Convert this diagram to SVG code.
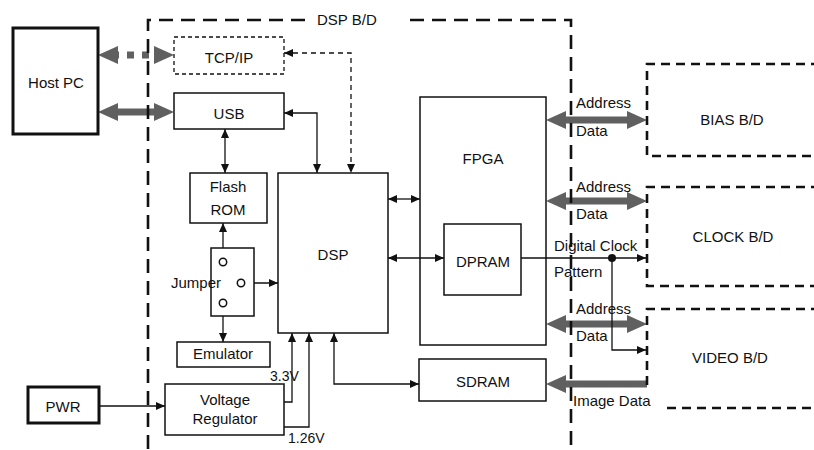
<svg xmlns="http://www.w3.org/2000/svg" width="814" height="450" viewBox="0 0 814 450">
<defs>
<style>
text{font-family:"Liberation Sans",Arial,sans-serif;font-size:15px;fill:#111}
.c{text-anchor:middle}
.sm{font-size:14px}
.box{fill:#fff;stroke:#111;stroke-width:1.5}
.thick{fill:#fff;stroke:#111;stroke-width:3}
.dbox{fill:none;stroke:#111;stroke-width:1.3;stroke-dasharray:4 3}
.bd{fill:none;stroke:#111;stroke-width:2.6;stroke-dasharray:14 8}
.sub{fill:none;stroke:#111;stroke-width:2.6;stroke-dasharray:9 6}
.ln{fill:none;stroke:#111;stroke-width:1.3}
.dl{fill:none;stroke:#111;stroke-width:1.3;stroke-dasharray:5 4}
.ba{marker-start:url(#ah);marker-end:url(#ah)}
.ea{marker-end:url(#ah)}
.g{fill:none;stroke:#606060;stroke-width:7}
.gb{marker-start:url(#gh);marker-end:url(#gh)}
</style>
<marker id="ah" markerUnits="userSpaceOnUse" markerWidth="9" markerHeight="8" refX="9" refY="4" orient="auto-start-reverse"><path d="M0,0 L9,4 L0,8 z" fill="#111"/></marker>
<marker id="gh" markerUnits="userSpaceOnUse" markerWidth="20" markerHeight="18" refX="10" refY="9" orient="auto-start-reverse"><path d="M0,0 L20,9 L0,18 z" fill="#606060"/></marker>
</defs>
<rect width="814" height="450" fill="#fff"/>

<g id="connectors">
<line class="g gb" x1="108" y1="55" x2="164" y2="55" stroke-dasharray="7 8" stroke-dashoffset="-4"/>
<line class="g gb" x1="108" y1="112" x2="164" y2="112"/>
<line class="g gb" x1="556" y1="120" x2="637" y2="120"/>
<line class="g gb" x1="556" y1="201" x2="637" y2="201"/>
<line class="g gb" x1="556" y1="324" x2="637" y2="324"/>
<path class="g" d="M647,384 H556" marker-end="url(#gh)"/>

<path class="ln ba" d="M225,129 V173"/>
<path class="ln ba" d="M284,113 H317 V173"/>
<path class="dl ba" d="M284,53 H351 V173"/>
<path class="ln ba" d="M223,223 V258"/>
<path class="ln ba" d="M245,283 H278"/>
<path class="ln ba" d="M223,307 V342"/>
<path class="ln ba" d="M388,199 H420"/>
<path class="ln ba" d="M388,258 H444"/>
<path class="ln ea" d="M521,258 H646"/>
<path class="ln ea" d="M612,258 V350 H646"/>
<circle cx="612" cy="258" r="4" fill="#111"/>
<path class="ln ba" d="M334,333 V384 H419"/>
<path class="ln ea" d="M99,406 H165"/>
<path class="ln ea" d="M284,402 H292 V333"/>
<path class="ln ea" d="M284,427 H309 V333"/>
</g>

<g id="dsp-bd">
<path class="bd" d="M305,20 H148 V450"/>
<path class="bd" d="M410,20 H571 V450"/>
<text x="317" y="25">DSP B/D</text>
</g>

<g id="host-pc"><rect class="thick" x="13" y="28" width="85" height="106"/><text class="c" x="56" y="88">Host PC</text></g>
<g id="tcpip"><rect class="dbox" x="174" y="37" width="110" height="37"/><text class="c" x="229" y="63">TCP/IP</text></g>
<g id="usb"><rect class="box" x="174" y="93" width="110" height="36"/><text class="c" x="229" y="119">USB</text></g>
<g id="flash-rom"><rect class="box" x="190" y="173" width="77" height="50"/><text class="c" x="228" y="192">Flash</text><text class="c" x="228" y="215">ROM</text></g>
<g id="jumper"><rect class="box" x="211" y="248" width="43" height="68"/>
<circle cx="223" cy="262" r="3.7" fill="#fff" stroke="#111" stroke-width="1.5"/>
<circle cx="241" cy="283" r="3.7" fill="#fff" stroke="#111" stroke-width="1.5"/>
<circle cx="223" cy="303" r="3.7" fill="#fff" stroke="#111" stroke-width="1.5"/>
<text x="171" y="288">Jumper</text></g>
<g id="emulator"><rect class="box" x="177" y="342" width="93" height="25"/><text class="c" x="223" y="359">Emulator</text></g>
<g id="dsp"><rect class="box" x="278" y="173" width="110" height="160" fill="none"/><text class="c" x="333" y="260">DSP</text></g>
<g id="fpga"><rect class="box" x="420" y="97" width="126" height="248" style="fill:none"/><text class="c" x="483" y="164">FPGA</text></g>
<g id="dpram"><rect class="box" x="444" y="224" width="77" height="71"/><text class="c" x="483" y="267">DPRAM</text></g>
<g id="sdram"><rect class="box" x="419" y="359" width="127" height="42"/><text class="c" x="483" y="387">SDRAM</text></g>
<g id="pwr"><rect class="thick" x="28" y="387" width="71" height="36"/><text class="c" x="63" y="412">PWR</text></g>
<g id="voltage-regulator"><rect class="box" x="165" y="384" width="119" height="51"/><text class="c" x="225" y="405">Voltage</text><text class="c" x="225" y="424">Regulator</text></g>

<g id="bias-bd"><path class="sub" d="M820,64 H647 V156 H820"/><text class="c" x="732" y="125">BIAS B/D</text></g>
<g id="clock-bd"><path class="sub" d="M820,187 H647 V286 H820"/><text class="c" x="733" y="242">CLOCK B/D</text></g>
<g id="video-bd"><path class="sub" d="M820,309 H647 V387"/><path class="sub" d="M667,408 H820"/><text class="c" x="730" y="363">VIDEO B/D</text></g>

<g id="labels">
<text x="576" y="108">Address</text><text x="576" y="136">Data</text>
<text x="576" y="192">Address</text><text x="576" y="219">Data</text>
<text x="576" y="314">Address</text><text x="576" y="341">Data</text>
<text x="554" y="251">Digital Clock</text><text x="554" y="277">Pattern</text>
<text x="573" y="406">Image Data</text>
<text class="sm" x="270" y="381">3.3V</text>
<text class="sm" x="288" y="443">1.26V</text>
</g>
</svg>
